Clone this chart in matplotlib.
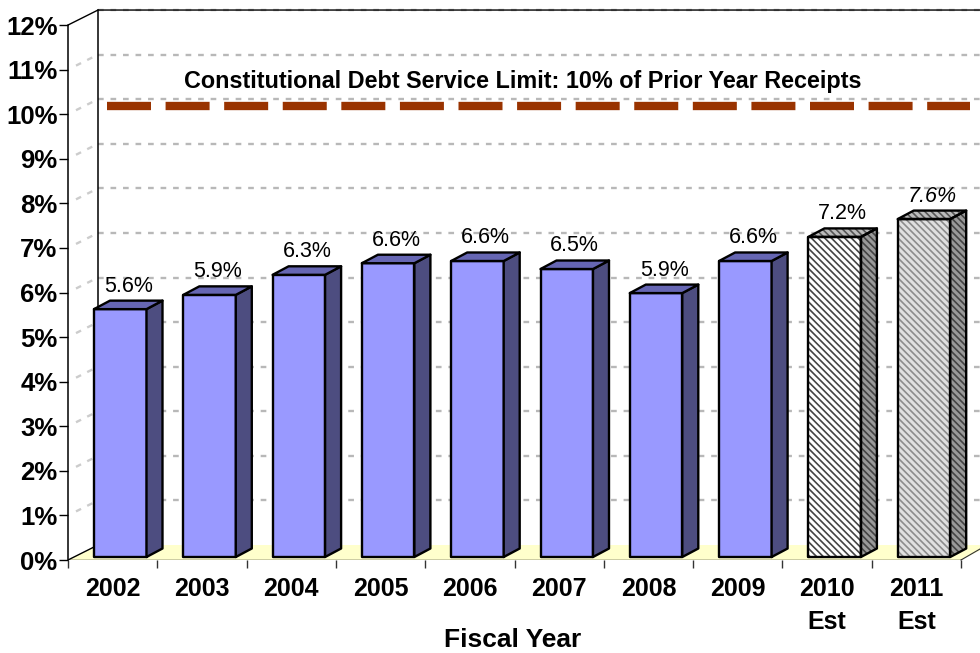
import matplotlib
matplotlib.use('Agg')
import matplotlib.pyplot as plt
from matplotlib.patches import Polygon

plt.rcParams['font.family'] = ['Liberation Sans', 'DejaVu Sans']
plt.rcParams['hatch.linewidth'] = 1.2

'''Chart data'''
years = ['2002', '2003', '2004', '2005', '2006', '2007', '2008', '2009', '2010\nEst', '2011\nEst']
debt_pct = [5.56, 5.88, 6.33, 6.59, 6.64, 6.46, 5.92, 6.64, 7.18, 7.58]
bar_labels = ['5.6%', '5.9%', '6.3%', '6.6%', '6.6%', '6.5%', '5.9%', '6.6%', '7.2%', '7.6%']
limit_pct = 10
y_ticks = [0, 1, 2, 3, 4, 5, 6, 7, 8, 9, 10, 11, 12]

'''Scale of the axes, in pixels per unit'''
W, H = 980, 653
x0_px, y0_px = 68, 560
cat_px = 89.3
pct_px = 44.58

fig = plt.figure(figsize=(W / 100, H / 100), dpi=100)
ax = fig.add_axes([x0_px / W, (H - y0_px) / H, 1 - x0_px / W, y0_px / H])
ax.set_xlim(0, (W - x0_px) / cat_px)
ax.set_ylim(0, y0_px / pct_px)
xmax = ax.get_xlim()[1]


def px(dx=0, dy=0):
    return dx / cat_px, dy / pct_px


'''Depth of the 3D box'''
wall_dx, wall_dy = px(30, 15)
side_dx, side_dy = px(16, 8.5)
base_dy = px(0, 3)[1]
bar_left = px(26)[0]
bar_w = px(52.5)[0]

'''Floor and walls'''
floor = Polygon([(0, 0), (wall_dx, wall_dy), (xmax + wall_dx, wall_dy), (10 + wall_dx, wall_dy), (10, 0)],
                closed=True, facecolor='#FFFFCC', edgecolor='none', zorder=1)
ax.add_patch(floor)
ax.plot([10, 10 + px(19)[0]], [0, px(0, 11)[1]], color='#333333', lw=0.8, zorder=1.5, clip_on=False)

for k in y_ticks[1:]:
    ax.plot([wall_dx, xmax], [k + wall_dy, k + wall_dy], color='#B8B8B8', lw=1.7,
            ls=(0, (2.4, 2.9)), zorder=1)
    if k < 12:
        ax.plot([px(8)[0], px(26)[0]], [k + px(0, 4)[1], k + px(0, 13)[1]], color='#CCCCCC', lw=1.7,
                ls=(0, (2.4, 2.9)), zorder=1)

ax.plot([wall_dx, wall_dx], [wall_dy, 12 + wall_dy], color='black', lw=1.1, zorder=1.5)
ax.plot([0, wall_dx, xmax], [12, 12 + wall_dy, 12 + wall_dy], color='black', lw=1.0, zorder=1.5)
ax.plot([0, px(26)[0]], [0, px(0, 13)[1]], color='black', lw=1.0, zorder=1.5)
ax.plot([0, 10], [0, 0], color='black', lw=1.0, zorder=1.5)

'''Bars: front, side and top faces'''
for i, v in enumerate(debt_pct):
    l = i + bar_left
    r = l + bar_w
    b = base_dy
    t = base_dy + v
    if i < 8:
        colours = ['#9999FF', '#4D4D80', '#6666B3']
        hatches = [None, None, None]
        lines = [None, None, None]
    elif i == 8:
        colours = ['white', '#999999', '#BBBBBB']
        hatches = ['\\\\\\\\\\'] * 3
        lines = ['#444444', '#444444', '#555555']
    else:
        colours = ['#E0E0E0', '#999999', '#BBBBBB']
        hatches = ['\\\\\\\\\\'] * 3
        lines = ['#8C8C8C', '#444444', '#555555']
    faces = [[(l, b), (r, b), (r, t), (l, t)],
             [(r, b), (r + side_dx, b + side_dy), (r + side_dx, t + side_dy), (r, t)],
             [(l, t), (r, t), (r + side_dx, t + side_dy), (l + side_dx, t + side_dy)]]
    for pts, col, hatch, line in zip(faces, colours, hatches, lines):
        if hatch:
            ax.add_patch(Polygon(pts, closed=True, facecolor=col, hatch=hatch, edgecolor=line, lw=0, zorder=3))
            ax.add_patch(Polygon(pts, closed=True, facecolor='none', edgecolor='black', lw=1.7,
                                 joinstyle='round', zorder=3.1))
        else:
            ax.add_patch(Polygon(pts, closed=True, facecolor=col, edgecolor='black', lw=1.7,
                                 joinstyle='round', zorder=3))

    ax.annotate(bar_labels[i], (l + bar_w / 2 + side_dx / 2, t + side_dy), xytext=(0, 10.5),
                textcoords='offset points', ha='center', va='center', fontsize=15.5,
                style='italic' if i == 9 else 'normal', color='black', zorder=5)

'''Debt service limit line'''
ax.plot([px(39)[0], px(902)[0]], [limit_pct + px(0, 8)[1]] * 2, color='#993300', lw=6,
        ls=(0, (5.28, 1.75)), dash_capstyle='butt', zorder=4)
ax.text(px(455)[0], limit_pct + px(0, 33)[1], 'Constitutional Debt Service Limit: 10% of Prior Year Receipts',
        ha='center', va='center', fontsize=16.8, fontweight='bold', zorder=5)

'''Axes'''
for name in ['top', 'right', 'bottom']:
    ax.spines[name].set_visible(False)
ax.spines['left'].set_bounds(0, 12)
ax.spines['left'].set_linewidth(1.1)
ax.patch.set_visible(False)

ax.set_yticks(y_ticks)
ax.set_yticklabels([f'{k}%' for k in y_ticks], fontsize=18.5, fontweight='bold')
ax.tick_params(axis='y', length=6.5, width=1, pad=1)

ax.set_xticks(range(0, 11))
ax.set_xticklabels([])
ax.set_xticks([i + 0.5 for i in range(10)], labels=years, minor=True)
ax.tick_params(axis='x', which='major', length=6, width=1, color='#333333')
ax.tick_params(axis='x', which='minor', length=0, pad=12, labelsize=18)
for lab in ax.get_xticklabels(minor=True):
    lab.set_fontweight('bold')
    lab.set_linespacing(1.5)

fig.text(513 / W, 1 - 640 / H, 'Fiscal Year', ha='center', va='center', fontsize=19, fontweight='bold')

fig.savefig('out.png', dpi=100)
